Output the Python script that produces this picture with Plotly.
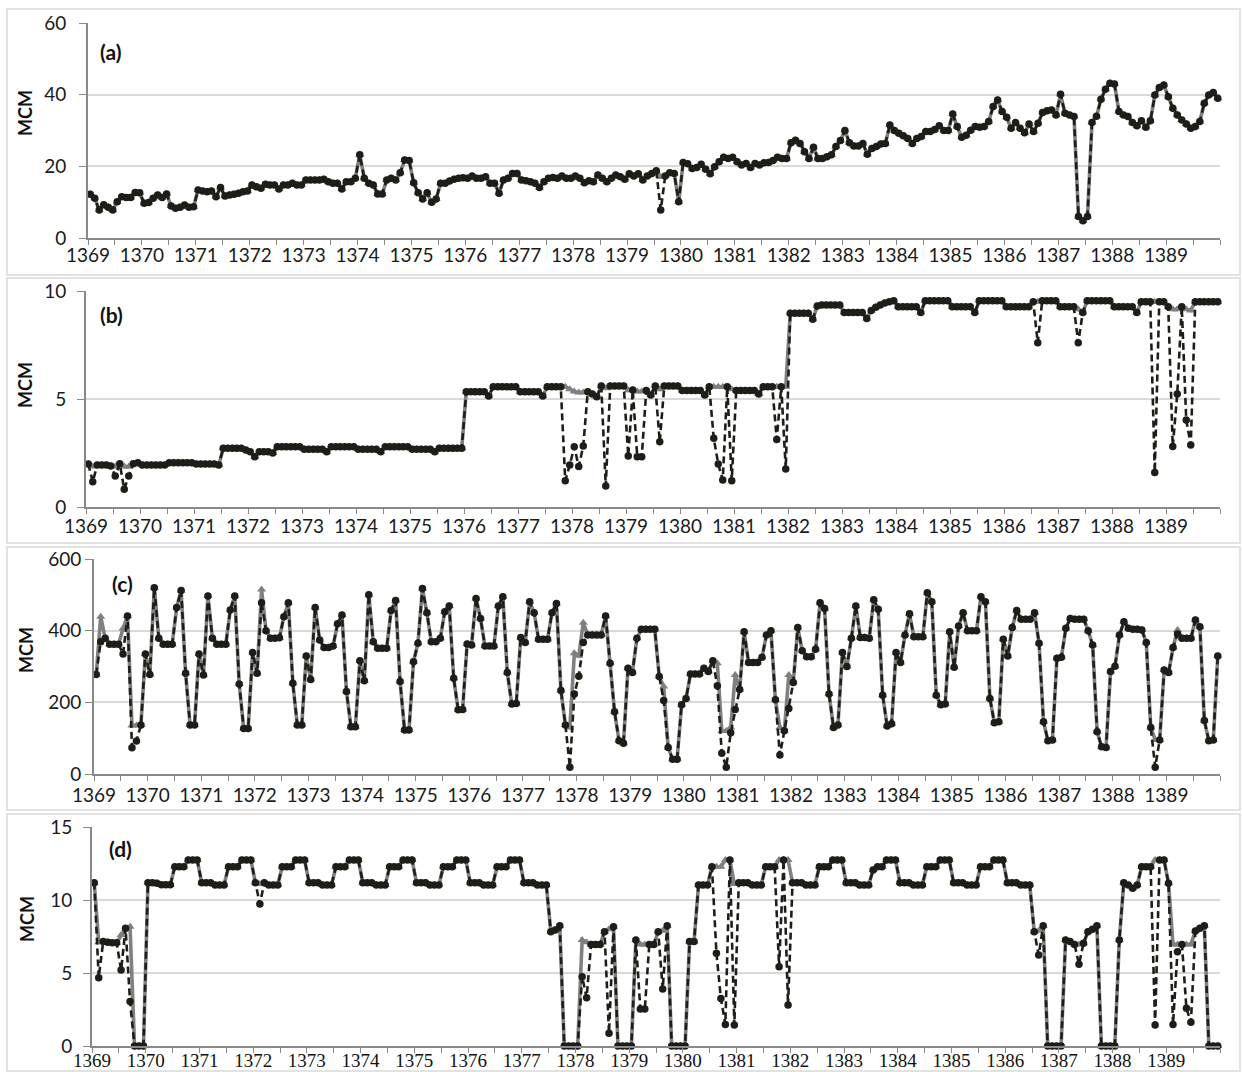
import plotly.graph_objects as go

W, H = 1242, 1072

# ---------------- data (monthly, 1369-1389, 252 months) ----------------
years = list(range(1369, 1390))
panel_labels = ["(a)", "(b)", "(c)", "(d)"]
y_title = "MCM"

# Panel (a)
a_black = [
    12.2, 11.1, 7.8, 9.3, 8.6, 7.8, 10.1, 11.5, 11.3, 11.3, 12.7, 12.6,
    9.7, 9.9, 11.1, 12.0, 11.3, 12.3, 8.9, 8.3, 8.6, 9.2, 8.6, 8.7,
    13.4, 13.1, 12.9, 13.1, 11.5, 14.1, 11.7, 12.0, 12.2, 12.5, 12.9, 13.1,
    14.8, 14.3, 13.9, 15.0, 14.8, 14.8, 13.7, 14.8, 14.8, 15.3, 14.8, 14.8,
    16.2, 16.2, 16.2, 16.2, 16.4, 15.7, 15.3, 15.3, 13.7, 15.7, 15.7, 16.7,
    23.2, 16.7, 15.3, 14.8, 12.3, 12.3, 16.2, 16.7, 16.2, 18.2, 21.8, 21.6,
    15.4, 12.6, 10.9, 12.6, 10.0, 10.9, 15.3, 15.3, 15.9, 16.4, 16.7, 16.8,
    16.7, 17.3, 16.7, 16.7, 17.1, 15.3, 15.3, 12.5, 16.2, 16.7, 18.0, 18.0,
    16.2, 16.0, 15.7, 15.3, 14.1, 15.7, 16.7, 16.9, 16.7, 17.3, 16.7, 16.7,
    17.3, 16.7, 15.4, 16.0, 15.7, 17.6, 16.7, 15.7, 16.7, 17.6, 17.1, 16.4,
    17.9, 17.3, 17.9, 16.2, 17.3, 18.0, 18.8, 7.8, 17.3, 18.2, 18.0, 10.1,
    21.1, 20.7, 19.4, 19.7, 20.6, 19.2, 17.9, 19.9, 21.3, 22.5, 22.2, 22.5,
    21.3, 20.4, 20.8, 19.7, 20.8, 20.4, 21.0, 21.1, 21.6, 22.5, 22.2, 22.2,
    26.6, 27.3, 26.4, 24.1, 22.2, 25.3, 22.2, 22.2, 22.7, 23.2, 25.5, 27.2,
    30.0, 26.6, 25.7, 25.7, 26.4, 23.4, 25.0, 25.5, 26.2, 26.4, 31.5, 30.0,
    29.2, 28.5, 27.8, 26.4, 27.8, 28.3, 29.7, 29.7, 30.3, 31.3, 30.0, 30.0,
    34.6, 31.1, 28.1, 28.7, 30.1, 31.1, 30.9, 31.1, 32.5, 36.7, 38.5, 35.3,
    33.7, 30.6, 32.2, 30.6, 29.4, 31.8, 29.7, 32.0, 35.0, 35.5, 35.7, 34.3,
    40.1, 34.8, 34.3, 33.9, 6.0, 4.8, 6.0, 32.2, 34.0, 38.7, 41.5, 43.2,
    43.0, 35.3, 34.3, 33.9, 32.2, 31.3, 32.7, 30.9, 32.7, 39.9, 42.0, 42.7,
    39.4, 36.2, 34.3, 32.9, 31.8, 30.6, 31.1, 32.5, 37.6, 39.9, 40.6, 39.0,
]
a_gray = [
    12.2, 11.1, 7.8, 9.3, 8.6, 7.8, 10.1, 11.5, 11.3, 11.3, 12.7, 12.6,
    9.7, 9.9, 11.1, 12.0, 11.3, 12.3, 8.9, 8.3, 8.6, 9.2, 8.6, 8.7,
    13.4, 13.1, 12.9, 13.1, 11.5, 14.1, 11.7, 12.0, 12.2, 12.5, 12.9, 13.1,
    14.8, 14.3, 13.9, 15.0, 14.8, 14.8, 13.7, 14.8, 14.8, 15.3, 14.8, 14.8,
    16.2, 16.2, 16.2, 16.2, 16.4, 15.7, 15.3, 15.3, 13.7, 15.7, 15.7, 16.7,
    23.2, 16.7, 15.3, 14.8, 12.3, 12.3, 16.2, 16.7, 16.2, 18.2, 21.8, 21.6,
    15.4, 12.6, 10.9, 12.6, 10.0, 10.9, 15.3, 15.3, 15.9, 16.4, 16.7, 16.8,
    16.7, 17.3, 16.7, 16.7, 17.1, 15.3, 15.3, 12.5, 16.2, 16.7, 18.0, 18.0,
    16.2, 16.0, 15.7, 15.3, 14.1, 15.7, 16.7, 16.9, 16.7, 17.3, 16.7, 16.7,
    17.3, 16.7, 15.4, 16.0, 15.7, 17.6, 16.7, 15.7, 16.7, 17.6, 17.1, 16.4,
    17.9, 17.3, 17.9, 16.2, 17.3, 18.0, 18.8, 17.0, 17.3, 18.2, 18.0, 10.1,
    21.1, 20.7, 19.4, 19.7, 20.6, 19.2, 17.9, 19.9, 21.3, 22.5, 22.2, 22.5,
    21.3, 20.4, 20.8, 19.7, 20.8, 20.4, 21.0, 21.1, 21.6, 22.5, 22.2, 22.2,
    26.6, 27.3, 26.4, 24.1, 22.2, 25.3, 22.2, 22.2, 22.7, 23.2, 25.5, 27.2,
    30.0, 26.6, 25.7, 25.7, 26.4, 23.4, 25.0, 25.5, 26.2, 26.4, 31.5, 30.0,
    29.2, 28.5, 27.8, 26.4, 27.8, 28.3, 29.7, 29.7, 30.3, 31.3, 30.0, 30.0,
    34.6, 31.1, 28.1, 28.7, 30.1, 31.1, 30.9, 31.1, 32.5, 36.7, 38.5, 35.3,
    33.7, 30.6, 32.2, 30.6, 29.4, 31.8, 29.7, 32.0, 35.0, 35.5, 35.7, 34.3,
    40.1, 34.8, 34.3, 33.9, 6.0, 4.8, 6.0, 32.2, 34.0, 38.7, 41.5, 43.2,
    43.0, 35.3, 34.3, 33.9, 32.2, 31.3, 32.7, 30.9, 32.7, 39.9, 42.0, 42.7,
    39.4, 36.2, 34.3, 32.9, 31.8, 30.6, 31.1, 32.5, 37.6, 39.9, 40.6, 39.0,
]

# Panel (b)
b_black = [
    1.99, 1.17, 1.94, 1.94, 1.94, 1.90, 1.44, 2.00, 0.82, 1.44, 2.00, 2.05,
    1.94, 1.94, 1.94, 1.94, 1.94, 1.94, 2.05, 2.05, 2.05, 2.05, 2.05, 2.05,
    1.99, 1.99, 1.99, 1.99, 1.99, 1.94, 2.72, 2.72, 2.72, 2.72, 2.72, 2.64,
    2.56, 2.33, 2.56, 2.56, 2.56, 2.50, 2.79, 2.79, 2.79, 2.79, 2.79, 2.79,
    2.67, 2.67, 2.67, 2.67, 2.67, 2.56, 2.79, 2.79, 2.79, 2.79, 2.79, 2.79,
    2.67, 2.67, 2.67, 2.67, 2.67, 2.56, 2.79, 2.79, 2.79, 2.79, 2.79, 2.79,
    2.67, 2.67, 2.67, 2.67, 2.67, 2.56, 2.72, 2.72, 2.72, 2.72, 2.72, 2.72,
    5.34, 5.34, 5.34, 5.34, 5.34, 5.14, 5.57, 5.57, 5.57, 5.57, 5.57, 5.57,
    5.34, 5.34, 5.34, 5.34, 5.34, 5.14, 5.57, 5.57, 5.57, 5.57, 1.22, 1.94,
    2.79, 1.87, 2.82, 5.34, 5.23, 5.10, 5.60, 0.97, 5.60, 5.60, 5.60, 5.60,
    2.36, 5.42, 2.33, 2.33, 5.39, 5.19, 5.60, 3.02, 5.60, 5.60, 5.60, 5.60,
    5.39, 5.39, 5.39, 5.39, 5.39, 5.19, 5.57, 3.18, 1.99, 1.25, 5.57, 1.22,
    5.39, 5.39, 5.39, 5.39, 5.39, 5.23, 5.57, 5.57, 5.57, 3.13, 5.57, 1.76,
    8.97, 8.97, 8.97, 8.97, 8.97, 8.69, 9.30, 9.35, 9.35, 9.35, 9.35, 9.35,
    9.00, 9.00, 9.00, 9.00, 9.00, 8.73, 9.10, 9.25, 9.35, 9.45, 9.50, 9.55,
    9.27, 9.27, 9.27, 9.27, 9.27, 9.00, 9.55, 9.55, 9.55, 9.55, 9.55, 9.55,
    9.27, 9.27, 9.27, 9.27, 9.27, 9.00, 9.55, 9.55, 9.55, 9.55, 9.55, 9.55,
    9.27, 9.27, 9.27, 9.27, 9.27, 9.27, 9.50, 7.60, 9.55, 9.55, 9.55, 9.55,
    9.27, 9.27, 9.27, 9.27, 7.60, 9.00, 9.55, 9.55, 9.55, 9.55, 9.55, 9.55,
    9.27, 9.27, 9.27, 9.27, 9.27, 9.00, 9.50, 9.50, 9.50, 1.60, 9.50, 9.50,
    9.27, 2.80, 5.23, 9.27, 4.03, 2.87, 9.50, 9.50, 9.50, 9.50, 9.50, 9.50,
]
b_gray = [
    1.99, 1.87, 1.94, 1.94, 1.94, 1.90, 1.87, 2.00, 1.87, 1.87, 2.00, 2.05,
    1.94, 1.94, 1.94, 1.94, 1.94, 1.94, 2.05, 2.05, 2.05, 2.05, 2.05, 2.05,
    1.99, 1.99, 1.99, 1.99, 1.99, 1.94, 2.72, 2.72, 2.72, 2.72, 2.72, 2.64,
    2.56, 2.33, 2.56, 2.56, 2.56, 2.50, 2.79, 2.79, 2.79, 2.79, 2.79, 2.79,
    2.67, 2.67, 2.67, 2.67, 2.67, 2.56, 2.79, 2.79, 2.79, 2.79, 2.79, 2.79,
    2.67, 2.67, 2.67, 2.67, 2.67, 2.56, 2.79, 2.79, 2.79, 2.79, 2.79, 2.79,
    2.67, 2.67, 2.67, 2.67, 2.67, 2.56, 2.72, 2.72, 2.72, 2.72, 2.72, 2.72,
    5.34, 5.34, 5.34, 5.34, 5.34, 5.14, 5.57, 5.57, 5.57, 5.57, 5.57, 5.57,
    5.34, 5.34, 5.34, 5.34, 5.34, 5.14, 5.57, 5.57, 5.57, 5.57, 5.57, 5.45,
    5.35, 5.30, 5.30, 5.34, 5.23, 5.10, 5.60, 5.50, 5.60, 5.60, 5.60, 5.60,
    5.40, 5.42, 5.35, 5.35, 5.39, 5.19, 5.60, 5.45, 5.60, 5.60, 5.60, 5.60,
    5.39, 5.39, 5.39, 5.39, 5.39, 5.19, 5.57, 5.57, 5.57, 5.57, 5.57, 5.45,
    5.39, 5.39, 5.39, 5.39, 5.39, 5.23, 5.57, 5.57, 5.57, 5.57, 5.57, 5.57,
    8.97, 8.97, 8.97, 8.97, 8.97, 8.69, 9.30, 9.35, 9.35, 9.35, 9.35, 9.35,
    9.00, 9.00, 9.00, 9.00, 9.00, 8.73, 9.10, 9.25, 9.35, 9.45, 9.50, 9.55,
    9.27, 9.27, 9.27, 9.27, 9.27, 9.00, 9.55, 9.55, 9.55, 9.55, 9.55, 9.55,
    9.27, 9.27, 9.27, 9.27, 9.27, 9.00, 9.55, 9.55, 9.55, 9.55, 9.55, 9.55,
    9.27, 9.27, 9.27, 9.27, 9.27, 9.27, 9.50, 9.50, 9.55, 9.55, 9.55, 9.55,
    9.27, 9.27, 9.27, 9.27, 9.15, 9.00, 9.55, 9.55, 9.55, 9.55, 9.55, 9.55,
    9.27, 9.27, 9.27, 9.27, 9.27, 9.00, 9.50, 9.50, 9.50, 9.50, 9.50, 9.50,
    9.27, 9.15, 9.15, 9.20, 9.15, 9.10, 9.50, 9.50, 9.50, 9.50, 9.50, 9.50,
]

# Panel (c)
c_black = [
    278, 369, 379, 362, 362, 362, 335, 441, 73, 92, 137, 335,
    278, 520, 379, 362, 362, 362, 465, 512, 281, 137, 137, 335,
    276, 497, 379, 362, 362, 362, 458, 497, 251, 127, 127, 339,
    281, 478, 400, 379, 379, 380, 439, 478, 253, 137, 137, 329,
    264, 465, 374, 353, 353, 357, 419, 444, 230, 132, 132, 316,
    260, 500, 369, 351, 351, 351, 456, 484, 258, 123, 123, 313,
    365, 518, 450, 369, 369, 379, 453, 469, 267, 179, 180, 363,
    360, 490, 434, 357, 357, 357, 469, 495, 283, 195, 197, 381,
    367, 481, 450, 376, 376, 376, 450, 476, 233, 137, 19, 223,
    273, 367, 388, 388, 388, 388, 441, 309, 174, 93, 86, 295,
    283, 379, 404, 404, 404, 404, 272, 205, 74, 41, 41, 193,
    211, 279, 279, 279, 295, 286, 316, 246, 58, 19, 115, 180,
    236, 397, 311, 311, 311, 326, 388, 400, 207, 53, 121, 183,
    255, 409, 344, 327, 327, 348, 478, 462, 223, 130, 137, 339,
    300, 379, 469, 381, 381, 379, 486, 460, 220, 134, 140, 339,
    311, 388, 447, 383, 383, 383, 506, 481, 220, 193, 195, 397,
    298, 413, 450, 400, 400, 400, 495, 481, 211, 143, 146, 376,
    329, 409, 456, 432, 432, 432, 450, 365, 146, 93, 95, 323,
    326, 407, 434, 432, 432, 432, 400, 360, 118, 76, 74, 286,
    301, 388, 425, 407, 404, 404, 402, 367, 130, 19, 95, 290,
    283, 353, 391, 379, 379, 379, 430, 411, 149, 93, 95, 329,
]
c_gray = [
    278, 439, 379, 362, 362, 362, 406, 441, 135, 135, 137, 335,
    278, 520, 379, 362, 362, 362, 465, 512, 281, 137, 137, 335,
    276, 497, 379, 362, 362, 362, 458, 497, 251, 127, 127, 339,
    281, 515, 400, 379, 379, 380, 439, 478, 253, 137, 137, 329,
    264, 465, 374, 353, 353, 357, 419, 444, 230, 132, 132, 316,
    260, 500, 369, 351, 351, 351, 456, 484, 258, 123, 123, 313,
    365, 518, 450, 369, 369, 379, 453, 469, 267, 179, 180, 363,
    360, 490, 434, 357, 357, 357, 469, 495, 283, 195, 197, 381,
    367, 481, 450, 376, 376, 376, 450, 476, 233, 137, 130, 337,
    330, 422, 388, 388, 388, 388, 441, 309, 174, 93, 86, 295,
    283, 379, 404, 404, 404, 404, 272, 244, 74, 41, 41, 193,
    211, 279, 279, 279, 295, 286, 316, 309, 120, 120, 130, 276,
    236, 397, 311, 311, 311, 326, 388, 400, 207, 130, 121, 276,
    255, 409, 344, 327, 327, 348, 478, 462, 223, 130, 137, 339,
    300, 379, 469, 381, 381, 379, 486, 460, 220, 134, 140, 339,
    311, 388, 447, 383, 383, 383, 506, 481, 220, 193, 195, 397,
    298, 413, 450, 400, 400, 400, 495, 481, 211, 143, 146, 376,
    329, 409, 456, 432, 432, 432, 450, 365, 146, 93, 95, 323,
    326, 407, 434, 432, 432, 432, 400, 360, 118, 76, 74, 286,
    301, 388, 425, 407, 404, 404, 402, 367, 130, 95, 95, 290,
    283, 353, 402, 379, 379, 379, 430, 411, 149, 93, 95, 329,
]

# Panel (d)
d_black = [
    11.19, 4.68, 7.15, 7.10, 7.08, 7.08, 5.20, 8.06, 3.04, 0, 0, 0,
    11.19, 11.19, 11.15, 11.05, 11.05, 11.05, 12.28, 12.28, 12.28, 12.74, 12.74, 12.74,
    11.19, 11.19, 11.19, 11.03, 11.03, 11.03, 12.28, 12.28, 12.28, 12.74, 12.74, 12.74,
    11.19, 9.73, 11.19, 11.03, 11.03, 11.03, 12.28, 12.28, 12.28, 12.74, 12.74, 12.74,
    11.19, 11.19, 11.19, 11.03, 11.03, 11.03, 12.28, 12.28, 12.28, 12.74, 12.74, 12.74,
    11.19, 11.19, 11.19, 11.03, 11.03, 11.03, 12.28, 12.28, 12.28, 12.74, 12.74, 12.74,
    11.19, 11.19, 11.19, 11.03, 11.03, 11.03, 12.28, 12.28, 12.28, 12.74, 12.74, 12.74,
    11.19, 11.19, 11.19, 11.03, 11.03, 11.03, 12.28, 12.28, 12.28, 12.74, 12.74, 12.74,
    11.19, 11.19, 11.19, 11.03, 11.03, 11.03, 7.83, 7.95, 8.24, 0, 0, 0,
    0, 4.75, 3.31, 6.96, 6.96, 6.96, 7.83, 0.87, 8.17, 0, 0, 0,
    0, 7.26, 2.53, 2.53, 6.96, 6.96, 7.83, 3.90, 8.24, 0, 0, 0,
    0, 7.15, 7.15, 11.03, 11.03, 11.03, 12.28, 6.35, 3.26, 1.48, 12.74, 1.44,
    11.19, 11.19, 11.19, 11.03, 11.03, 11.03, 12.28, 12.28, 12.28, 5.43, 12.74, 2.80,
    11.19, 11.19, 11.19, 11.03, 11.03, 11.03, 12.28, 12.28, 12.28, 12.74, 12.74, 12.74,
    11.19, 11.19, 11.19, 11.03, 11.03, 11.03, 12.05, 12.28, 12.28, 12.74, 12.74, 12.74,
    11.19, 11.19, 11.19, 11.03, 11.03, 11.03, 12.28, 12.28, 12.28, 12.74, 12.74, 12.74,
    11.19, 11.19, 11.19, 11.03, 11.03, 11.03, 12.28, 12.28, 12.28, 12.74, 12.74, 12.74,
    11.19, 11.19, 11.19, 11.03, 11.03, 11.03, 7.83, 6.23, 8.24, 0, 0, 0,
    0, 7.26, 7.15, 6.96, 5.60, 7.03, 7.83, 8.00, 8.24, 0, 0, 0,
    0, 7.26, 11.19, 11.03, 10.80, 11.03, 12.28, 12.28, 12.28, 1.44, 12.74, 12.74,
    11.14, 1.48, 6.46, 6.96, 2.58, 1.62, 7.88, 8.06, 8.24, 0, 0, 0,
]
d_gray = [
    11.19, 7.10, 7.15, 7.10, 7.08, 7.08, 7.60, 8.00, 8.17, 0, 0, 0,
    11.19, 11.19, 11.15, 11.05, 11.05, 11.05, 12.28, 12.28, 12.28, 12.74, 12.74, 12.74,
    11.19, 11.19, 11.19, 11.03, 11.03, 11.03, 12.28, 12.28, 12.28, 12.74, 12.74, 12.74,
    11.19, 11.10, 11.19, 11.03, 11.03, 11.03, 12.28, 12.28, 12.28, 12.74, 12.74, 12.74,
    11.19, 11.19, 11.19, 11.03, 11.03, 11.03, 12.28, 12.28, 12.28, 12.74, 12.74, 12.74,
    11.19, 11.19, 11.19, 11.03, 11.03, 11.03, 12.28, 12.28, 12.28, 12.74, 12.74, 12.74,
    11.19, 11.19, 11.19, 11.03, 11.03, 11.03, 12.28, 12.28, 12.28, 12.74, 12.74, 12.74,
    11.19, 11.19, 11.19, 11.03, 11.03, 11.03, 12.28, 12.28, 12.28, 12.74, 12.74, 12.74,
    11.19, 11.19, 11.19, 11.03, 11.03, 11.03, 7.83, 7.95, 8.24, 0, 0, 0,
    0, 7.26, 7.10, 6.96, 6.96, 6.96, 7.83, 8.00, 8.17, 0, 0, 0,
    0, 7.26, 6.96, 6.96, 6.96, 6.96, 7.83, 7.90, 8.24, 0, 0, 0,
    0, 7.15, 7.15, 11.03, 11.03, 11.03, 12.28, 12.28, 12.28, 12.74, 12.74, 11.10,
    11.19, 11.19, 11.19, 11.03, 11.03, 11.03, 12.28, 12.28, 12.28, 12.74, 12.74, 12.74,
    11.19, 11.19, 11.19, 11.03, 11.03, 11.03, 12.28, 12.28, 12.28, 12.74, 12.74, 12.74,
    11.19, 11.19, 11.19, 11.03, 11.03, 11.03, 12.05, 12.28, 12.28, 12.74, 12.74, 12.74,
    11.19, 11.19, 11.19, 11.03, 11.03, 11.03, 12.28, 12.28, 12.28, 12.74, 12.74, 12.74,
    11.19, 11.19, 11.19, 11.03, 11.03, 11.03, 12.28, 12.28, 12.28, 12.74, 12.74, 12.74,
    11.19, 11.19, 11.19, 11.03, 11.03, 11.03, 7.83, 7.90, 8.24, 0, 0, 0,
    0, 7.26, 7.15, 6.96, 6.96, 7.03, 7.83, 8.00, 8.24, 0, 0, 0,
    0, 7.26, 11.19, 11.03, 10.80, 11.03, 12.28, 12.28, 12.28, 12.74, 12.74, 12.74,
    11.14, 6.96, 6.96, 6.96, 6.96, 6.96, 7.88, 8.06, 8.24, 0, 0, 0,
]

y_ranges = [(0, 60), (0, 10), (0, 600), (0, 15)]
y_dticks = [20, 5, 200, 5]

# ---------------- layout geometry (pixels) ----------------
# plot areas: left, right, top, bottom
areas = [(88, 1220, 23, 238), (86, 1220, 291, 507), (94, 1220, 559, 774), (92, 1220, 827, 1046)]
boxes = [(7, 1240, 9, 275), (7, 1240, 278, 543), (7, 1240, 547, 810), (7, 1240, 814, 1071)]
label_pos = [(98, 52), (98, 314), (110, 583), (107, 848)]
mcm_pos = [(25, 113), (25, 385), (26, 650), (27, 919)]
ystandoff = [9, 7, 0, 7]
xstandoff = [-6, -4, -2, -9]

GRAY = "#808080"
DARK = "#1e1e18"
GRID = "#d9d9d9"
AXIS = "#898989"

series = [(a_black, a_gray), (b_black, b_gray), (c_black, c_gray), (d_black, d_gray)]
n_months = len(a_black)
x_vals = [years[0] + (i + 0.5) / 12 for i in range(n_months)]

tickvals = [years[0] + k * 0.5 for k in range(2 * len(years) + 1)]
ticktext = [str(years[k // 2]) if (k % 2 == 0 and k // 2 < len(years)) else "" for k in range(len(tickvals))]

fig = go.Figure()
layout = dict(
    width=W, height=H, margin=dict(l=0, r=0, t=0, b=0, autoexpand=False),
    paper_bgcolor="white", plot_bgcolor="white", showlegend=False,
    shapes=[], annotations=[],
)

for p in range(4):
    sfx = "" if p == 0 else str(p + 1)
    xa, ya = "x" + sfx, "y" + sfx
    black, gray = series[p]
    fig.add_trace(go.Scatter(
        x=x_vals, y=gray, xaxis=xa, yaxis=ya, mode="lines+markers",
        line=dict(color=GRAY, width=3.6),
        marker=dict(symbol="triangle-up", size=8, color=GRAY),
        hoverinfo="skip", cliponaxis=False,
    ))
    fig.add_trace(go.Scatter(
        x=x_vals, y=black, xaxis=xa, yaxis=ya, mode="lines+markers",
        line=dict(color=DARK, width=2.6, dash="7px,4px"),
        marker=dict(symbol="circle", size=7.5, color=DARK),
        hoverinfo="skip", cliponaxis=False,
    ))
    l, r, t, b = areas[p]
    xfont = dict(family="Liberation Serif", size=19, color="#111111") if p == 3 else \
        dict(family="Lato", size=19, color="#1a1a1a")
    layout["xaxis" + sfx] = dict(
        domain=[l / W, r / W], anchor=ya, range=[years[0], years[-1] + 1],
        tickmode="array", tickvals=tickvals, ticktext=ticktext,
        ticks="outside", ticklen=5, tickwidth=1.3, tickcolor=AXIS,
        showline=True, linecolor=AXIS, linewidth=1.6, showgrid=False,
        zeroline=False, tickfont=xfont, fixedrange=True, automargin=False,
        ticklabelstandoff=xstandoff[p],
    )
    layout["yaxis" + sfx] = dict(
        domain=[1 - b / H, 1 - t / H], anchor=xa, range=list(y_ranges[p]),
        dtick=y_dticks[p], tick0=0, ticks="outside", ticklen=7, tickwidth=1.3,
        tickcolor=AXIS, showline=True, linecolor=AXIS, linewidth=1.6,
        showgrid=True, gridcolor=GRID, gridwidth=1.6, zeroline=False,
        tickfont=dict(family="Lato", size=19, color="#1a1a1a"),
        ticklabelstandoff=ystandoff[p], fixedrange=True, automargin=False,
    )
    bx0, bx1, by0, by1 = boxes[p]
    layout["shapes"].append(dict(
        type="rect", xref="paper", yref="paper",
        x0=bx0 / W, x1=bx1 / W, y0=1 - by1 / H, y1=1 - by0 / H,
        line=dict(color=GRID, width=1.5), fillcolor="rgba(0,0,0,0)", layer="below",
    ))
    lx, ly = label_pos[p]
    layout["annotations"].append(dict(
        text="<b>" + panel_labels[p] + "</b>", xref="paper", yref="paper",
        x=lx / W, y=1 - ly / H, xanchor="left", yanchor="middle", showarrow=False,
        font=dict(family="Lato", size=21, color="#111111"),
    ))
    mx, my = mcm_pos[p]
    layout["annotations"].append(dict(
        text="<b>" + y_title + "</b>", xref="paper", yref="paper",
        x=mx / W, y=1 - my / H, xanchor="center", yanchor="middle", showarrow=False,
        textangle=-90, font=dict(family="Lato", size=18, color="#111111"),
    ))

fig.update_layout(**layout)
fig.write_html("out.html", include_plotlyjs=True, config={"displayModeBar": False},
               post_script="document.body.style.margin='0';document.body.style.overflow='hidden';")
